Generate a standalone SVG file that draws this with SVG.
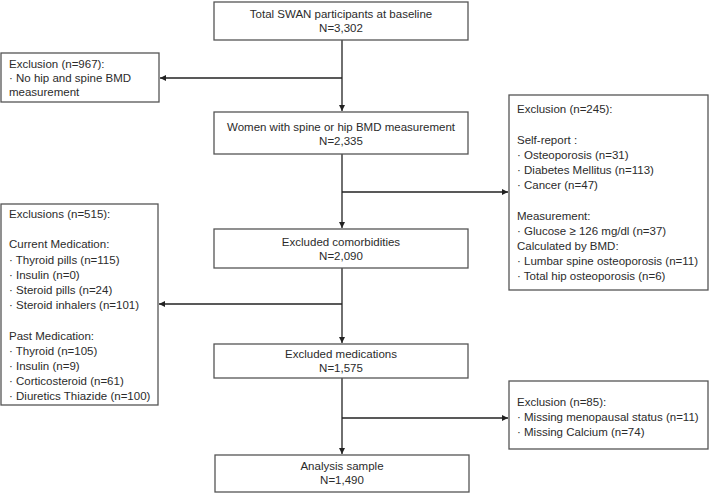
<svg xmlns="http://www.w3.org/2000/svg" width="709" height="493" viewBox="0 0 709 493">
<style>
.box{fill:#fff;stroke:#555;stroke-width:1.3}
text{font-family:"Liberation Sans",Arial,sans-serif;font-size:11.5px;fill:#2b2b2b}
.c{text-anchor:middle}
.ln{fill:none;stroke:#222;stroke-width:1.3}
</style>
<defs>
<marker id="ah" viewBox="0 0 10 10" refX="10" refY="5" markerWidth="6" markerHeight="6" markerUnits="userSpaceOnUse" orient="auto">
<path d="M0,0 L10,5 L0,10 z" fill="#222"/>
</marker>
</defs>
<rect width="709" height="493" fill="#fff"/>
<g id="connectors">
<path class="ln" d="M342,40 V111" marker-end="url(#ah)"/>
<path class="ln" d="M342,78 H160" marker-end="url(#ah)"/>
<path class="ln" d="M342,154 V228" marker-end="url(#ah)"/>
<path class="ln" d="M342,192 H508" marker-end="url(#ah)"/>
<path class="ln" d="M342,268 V343" marker-end="url(#ah)"/>
<path class="ln" d="M342,304 H159" marker-end="url(#ah)"/>
<path class="ln" d="M342,378 V454" marker-end="url(#ah)"/>
<path class="ln" d="M342,418 H508" marker-end="url(#ah)"/>
</g>
<g id="n-total">
<rect class="box" x="214" y="2" width="254" height="38"/>
<text class="c" x="341" y="18">Total SWAN participants at baseline</text>
<text class="c" x="341" y="32">N=3,302</text>
</g>
<g id="n-excl967">
<rect class="box" x="1" y="53" width="158" height="49"/>
<text x="9" y="68">Exclusion (n=967):</text>
<text x="9" y="82">· No hip and spine BMD</text>
<text x="9" y="96">measurement</text>
</g>
<g id="n-women">
<rect class="box" x="214" y="112" width="254" height="42"/>
<text class="c" x="341" y="131">Women with spine or hip BMD measurement</text>
<text class="c" x="341" y="145">N=2,335</text>
</g>
<g id="n-excl245">
<rect class="box" x="509" y="95" width="199" height="195"/>
<text x="517" y="113">Exclusion (n=245):</text>
<text x="517" y="143.5">Self-report :</text>
<text x="517" y="158.7">· Osteoporosis (n=31)</text>
<text x="517" y="173.9">· Diabetes Mellitus (n=113)</text>
<text x="517" y="189.1">· Cancer (n=47)</text>
<text x="517" y="219.5">Measurement:</text>
<text x="517" y="234.7">· Glucose ≥ 126 mg/dl (n=37)</text>
<text x="517" y="249.9">Calculated by BMD:</text>
<text x="517" y="265.1">· Lumbar spine osteoporosis (n=11)</text>
<text x="517" y="280.3">· Total hip osteoporosis (n=6)</text>
</g>
<g id="n-comorb">
<rect class="box" x="214" y="229" width="254" height="39"/>
<text class="c" x="341" y="246">Excluded comorbidities</text>
<text class="c" x="341" y="260">N=2,090</text>
</g>
<g id="n-excl515">
<rect class="box" x="1" y="204" width="157" height="201"/>
<text x="9" y="218">Exclusions (n=515):</text>
<text x="9" y="248.4">Current Medication:</text>
<text x="9" y="263.6">· Thyroid pills (n=115)</text>
<text x="9" y="278.8">· Insulin (n=0)</text>
<text x="9" y="294">· Steroid pills (n=24)</text>
<text x="9" y="309.2">· Steroid inhalers (n=101)</text>
<text x="9" y="339.6">Past Medication:</text>
<text x="9" y="354.8">· Thyroid (n=105)</text>
<text x="9" y="370">· Insulin (n=9)</text>
<text x="9" y="385.2">· Corticosteroid (n=61)</text>
<text x="9" y="400.4">· Diuretics Thiazide (n=100)</text>
</g>
<g id="n-meds">
<rect class="box" x="214" y="344" width="254" height="34"/>
<text class="c" x="341" y="358">Excluded medications</text>
<text class="c" x="341" y="372">N=1,575</text>
</g>
<g id="n-excl85">
<rect class="box" x="509" y="381" width="199" height="68"/>
<text x="517" y="406">Exclusion (n=85):</text>
<text x="517" y="421">· Missing menopausal status (n=11)</text>
<text x="517" y="436">· Missing Calcium (n=74)</text>
</g>
<g id="n-analysis">
<rect class="box" x="215" y="455" width="254" height="37"/>
<text class="c" x="342" y="470">Analysis sample</text>
<text class="c" x="342" y="484">N=1,490</text>
</g>
</svg>
